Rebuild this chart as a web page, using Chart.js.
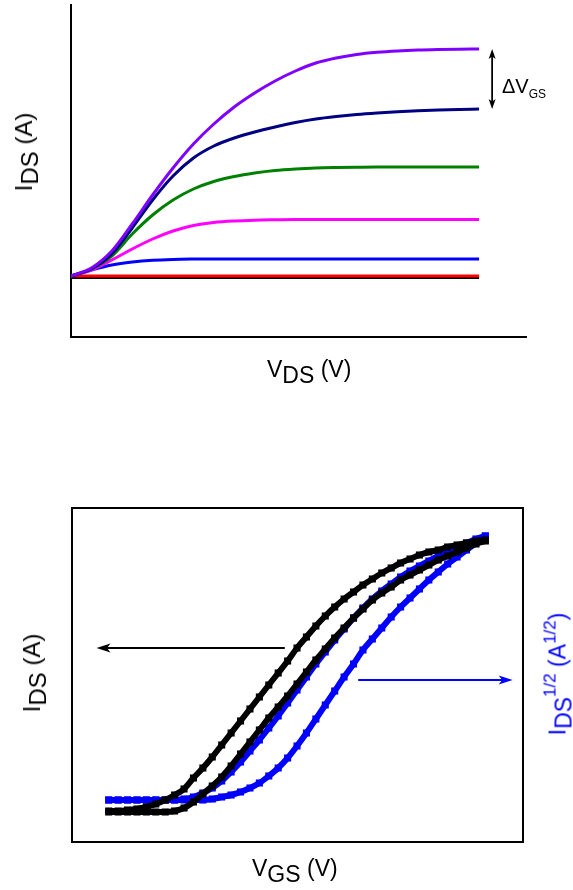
<!DOCTYPE html>
<html><head><meta charset="utf-8">
<script src="https://cdn.jsdelivr.net/npm/chart.js@4.4.1/dist/chart.umd.min.js"></script>
<style>
html,body{margin:0;padding:0;background:#fff;width:573px;height:890px;overflow:hidden;position:relative;}
canvas{position:absolute;left:0;}
#c1{top:0;}
#c2{top:480px;}
.lbl{position:absolute;font-family:"Liberation Sans",Arial,sans-serif;color:#000;white-space:nowrap;line-height:1;}
.rot{transform:translate(-50%,-50%) rotate(-90deg);}
.sb{position:relative;top:6px;}
.sp{position:relative;top:-10px;font-size:17px;}
</style></head><body>
<canvas id="c1" width="573" height="400"></canvas>
<canvas id="c2" width="573" height="410"></canvas>

<div class="lbl" style="left:267px;top:358px;font-size:23px">V<span class="sb">DS</span> (V)</div>
<div class="lbl rot" style="left:24px;top:152px;font-size:24px">I<span class="sb">DS</span> (A)</div>
<div class="lbl" style="left:502px;top:76px;font-size:20px">ΔV<span style="position:relative;top:5px;font-size:12px">GS</span></div>

<div class="lbl" style="left:252px;top:857px;font-size:23px">V<span class="sb">GS</span> (V)</div>
<div class="lbl rot" style="left:32px;top:673px;font-size:24px">I<span class="sb">DS</span> (A)</div>
<div class="lbl rot" style="left:558px;top:674px;font-size:23px;color:#0000ff">I<span class="sb">DS</span><span class="sp">1/2</span> (A<span class="sp">1/2</span>)</div>

<script>
// ---------- Output characteristics (top) ----------
const vds = [0,0.5,1,1.5,2,2.5,3,3.5,4,4.5,5,5.5,6,6.5,7,7.5,8,8.5,9,9.5,10];
const idsPurple  = [0,0.8,2.5,5.2,8.1,10.8,13.2,15.2,16.9,18.3,19.5,20.5,21.3,21.8,22.15,22.37,22.51,22.6,22.65,22.68,22.7];
const idsNavy    = [0,0.7,2.2,4.8,7.6,10.0,11.8,13.0,13.8,14.4,14.9,15.35,15.7,15.95,16.15,16.3,16.42,16.52,16.6,16.66,16.7];
const idsGreen   = [0,0.7,2.0,4.2,6.1,7.6,8.7,9.45,9.95,10.3,10.55,10.7,10.8,10.85,10.88,10.9,10.9,10.9,10.9,10.9,10.9];
const idsMagenta = [0,0.6,1.6,2.7,3.7,4.5,5.05,5.35,5.5,5.58,5.62,5.65,5.65,5.65,5.65,5.65,5.65,5.65,5.65,5.65,5.65];
const idsBlue    = [0,0.6,1.1,1.4,1.58,1.66,1.69,1.7,1.7,1.7,1.7,1.7,1.7,1.7,1.7,1.7,1.7,1.7,1.7,1.7,1.7];
const idsRed     = [0,0,0,0,0,0,0,0,0,0,0,0,0,0,0,0,0,0,0,0,0];
const idsBlack   = [-0.15,-0.15,-0.15,-0.15,-0.15,-0.15,-0.15,-0.15,-0.15,-0.15,-0.15,-0.15,-0.15,-0.15,-0.15,-0.15,-0.15,-0.15,-0.15,-0.15,-0.15];
const dVgsArrowX = 10.32;

// ---------- Transfer characteristics (bottom) ----------
const vgs = [-20,-19,-18,-17,-16,-15,-14,-13,-12,-11,-10,-9,-8,-7,-6,-5,-4,-3,-2,-1,0,1,2,3,4,5,6,7,8,9,10,11,12,13,14,15,16,17,18,19,20];
const idsLoopA   = [3.1,3.1,3.2,3.3,3.5,3.8,4.2,4.7,5.3,6.4,7.4,8.5,9.7,10.9,12.1,13.3,14.5,15.7,16.9,18.1,19.4,20.5,21.6,22.6,23.5,24.3,25.0,25.7,26.3,26.9,27.4,27.9,28.3,28.7,29.0,29.2,29.5,29.7,29.9,30.1,30.2];
const idsLoopB   = [3.0,3.0,3.0,3.0,3.0,3.0,3.0,3.1,3.4,4.0,4.8,5.6,6.5,7.6,8.8,10.0,11.2,12.4,13.5,14.6,15.8,17.0,18.2,19.3,20.4,21.4,22.4,23.3,24.2,24.9,25.5,26.2,26.7,27.2,27.7,28.2,28.6,29.0,29.4,29.8,30.1];
const sqrtLoopA  = [4.2,4.2,4.2,4.2,4.2,4.2,4.2,4.2,4.3,4.5,4.9,5.4,6.1,7.0,8.0,9.1,10.2,11.4,12.6,13.9,15.2,16.5,17.8,19.0,20.2,21.3,22.4,23.4,24.3,25.1,25.8,26.5,27.1,27.6,28.1,28.6,29.1,29.5,29.9,30.3,30.6];
const sqrtLoopB  = [4.2,4.2,4.2,4.2,4.2,4.2,4.2,4.2,4.2,4.2,4.2,4.3,4.5,4.7,5.0,5.4,5.9,6.6,7.4,8.4,9.6,10.9,12.3,13.7,15.1,16.5,17.8,19.2,20.3,21.4,22.5,23.5,24.4,25.3,26.2,27.0,27.8,28.5,29.2,29.9,30.6];
const arrowIds  = {x0:-1.3, x1:-21.3, y:19.4};
const arrowSqrt = {x0:6.5, x1:22.9, y:16.2};

function pts(xs, ys){ return xs.map((x,i)=>({x:x, y:ys[i]})); }

function arrowHead(ctx, x, y, dx, dy, len, half){
  const n = Math.hypot(dx,dy); const ux=dx/n, uy=dy/n;
  ctx.beginPath();
  ctx.moveTo(x,y);
  ctx.lineTo(x-ux*len - uy*half, y-uy*len + ux*half);
  ctx.lineTo(x-ux*len*0.75, y-uy*len*0.75);
  ctx.lineTo(x-ux*len + uy*half, y-uy*len - ux*half);
  ctx.closePath(); ctx.fill();
}

const noFit = {
  w: function(s){ s.width = 0; },
  h: function(s){ s.height = 0; }
};

// top chart
const lineDs = (data, color) => ({data: pts(vds, data), borderColor: color, backgroundColor: color, borderWidth: 3, pointRadius: 0, cubicInterpolationMode: 'monotone', fill: false});

const topArrow = {
  id: 'topArrow',
  afterDatasetsDraw(chart){
    const ctx = chart.ctx, xs = chart.scales.x, ys = chart.scales.y;
    const x = xs.getPixelForValue(dVgsArrowX);
    const y1 = ys.getPixelForValue(idsPurple[idsPurple.length-1]);
    const y2 = ys.getPixelForValue(idsNavy[idsNavy.length-1]);
    ctx.save();
    ctx.strokeStyle = '#000'; ctx.fillStyle = '#000'; ctx.lineWidth = 1.8;
    ctx.beginPath(); ctx.moveTo(x, y1+6); ctx.lineTo(x, y2-6); ctx.stroke();
    arrowHead(ctx, x, y1, 0, -1, 10, 3.5);
    arrowHead(ctx, x, y2, 0, 1, 10, 3.5);
    ctx.restore();
  }
};

new Chart(document.getElementById('c1'), {
  type: 'line',
  data: { datasets: [
    lineDs(idsPurple, '#8000ff'),
    lineDs(idsNavy, '#000080'),
    lineDs(idsGreen, '#008000'),
    lineDs(idsMagenta, '#ff00ff'),
    lineDs(idsBlue, '#0000ff'),
    lineDs(idsRed, '#ff0000'),
    lineDs(idsBlack, '#000000')
  ]},
  options: {
    responsive: false, animation: false, devicePixelRatio: 1,
    layout: { padding: {left: 71, top: 5, right: 47, bottom: 63} },
    plugins: { legend: {display: false}, tooltip: {enabled: false} },
    scales: {
      x: { type: 'linear', min: 0, max: 11.15, grid: {display: false, drawTicks: false}, ticks: {display: false},
           border: {display: true, color: '#000', width: 2}, afterFit: noFit.h },
      y: { type: 'linear', min: -6.1, max: 27.1, grid: {display: false, drawTicks: false}, ticks: {display: false},
           border: {display: true, color: '#000', width: 2}, afterFit: noFit.w }
    }
  },
  plugins: [topArrow]
});

// bottom chart
const markDs = (data, color, axis) => ({data: pts(vgs, data), yAxisID: axis, borderColor: color, backgroundColor: color,
  borderWidth: 6, pointRadius: 5, pointStyle: 'rect', pointBorderWidth: 0, pointBackgroundColor: color,
  cubicInterpolationMode: 'monotone', fill: false});

const sideArrows = {
  id: 'sideArrows',
  afterDatasetsDraw(chart){
    const ctx = chart.ctx, xs = chart.scales.x, yl = chart.scales.y, yr = chart.scales.y2;
    ctx.save();
    ctx.lineWidth = 2.2;
    let xa = xs.getPixelForValue(arrowIds.x0), xb = xs.getPixelForValue(arrowIds.x1), y = yl.getPixelForValue(arrowIds.y);
    ctx.strokeStyle = '#000'; ctx.fillStyle = '#000';
    ctx.beginPath(); ctx.moveTo(xa, y); ctx.lineTo(xb+8, y); ctx.stroke();
    arrowHead(ctx, xb, y, -1, 0, 14, 4.5);
    xa = xs.getPixelForValue(arrowSqrt.x0); xb = xs.getPixelForValue(arrowSqrt.x1); y = yr.getPixelForValue(arrowSqrt.y);
    ctx.strokeStyle = '#0000ff'; ctx.fillStyle = '#0000ff';
    ctx.beginPath(); ctx.moveTo(xa, y); ctx.lineTo(xb-8, y); ctx.stroke();
    arrowHead(ctx, xb, y, 1, 0, 14, 4.5);
    ctx.restore();
  }
};

new Chart(document.getElementById('c2'), {
  type: 'line',
  data: { datasets: [
    markDs(idsLoopA, '#000000', 'y'),
    markDs(idsLoopB, '#000000', 'y'),
    markDs(sqrtLoopA, '#0000ff', 'y2'),
    markDs(sqrtLoopB, '#0000ff', 'y2')
  ]},
  options: {
    responsive: false, animation: false, devicePixelRatio: 1,
    layout: { padding: {left: 72, top: 28, right: 50, bottom: 48} },
    plugins: { legend: {display: false}, tooltip: {enabled: false} },
    scales: {
      x:  { type: 'linear', position: 'bottom', min: -23.9, max: 24.0, grid: {display: false, drawTicks: false}, ticks: {display: false},
            border: {display: true, color: '#000', width: 2}, afterFit: noFit.h },
      x2: { type: 'linear', position: 'top', min: -23.9, max: 24.0, grid: {display: false, drawTicks: false}, ticks: {display: false},
            border: {display: true, color: '#000', width: 2}, afterFit: noFit.h },
      y:  { type: 'linear', position: 'left', min: 0, max: 33.4, grid: {display: false, drawTicks: false}, ticks: {display: false},
            border: {display: true, color: '#000', width: 2}, afterFit: noFit.w },
      y2: { type: 'linear', position: 'right', min: 0, max: 33.4, grid: {display: false, drawTicks: false}, ticks: {display: false},
            border: {display: true, color: '#000', width: 2}, afterFit: noFit.w }
    }
  },
  plugins: [sideArrows]
});
</script>
</body></html>
